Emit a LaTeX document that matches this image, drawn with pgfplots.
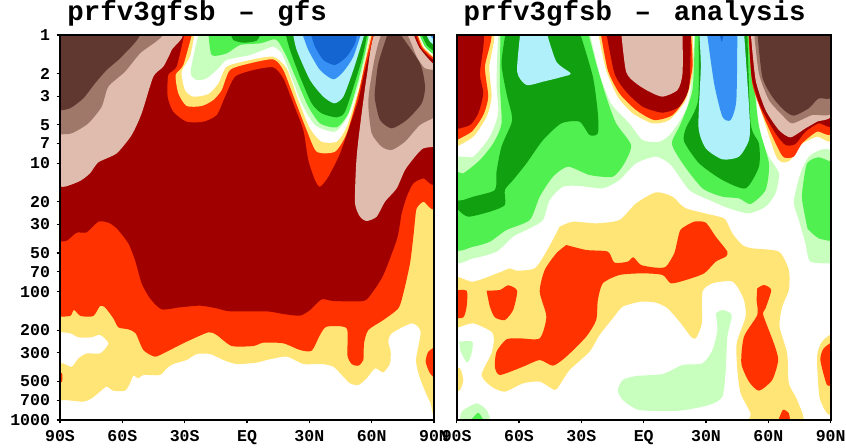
\documentclass[border=0pt]{standalone}
\usepackage{pgfplots}
\pgfplotsset{compat=1.18}
\usepackage{fontspec}
\setmainfont{Liberation Mono}
\definecolor{dbrown}{RGB}{96,56,48}
\definecolor{mbrown}{RGB}{160,120,106}
\definecolor{pinkb}{RGB}{224,188,174}
\definecolor{dred}{RGB}{160,0,0}
\definecolor{ored}{RGB}{255,50,0}
\definecolor{yel}{RGB}{255,228,118}
\definecolor{lgreen}{RGB}{200,255,190}
\definecolor{mgreen}{RGB}{80,240,80}
\definecolor{dgreen}{RGB}{16,160,16}
\definecolor{lblue}{RGB}{176,240,250}
\definecolor{mblue}{RGB}{55,145,245}
\definecolor{dblue}{RGB}{20,100,210}
\newcommand\reg[2]{\addplot[draw=none,fill=#1,no marks,smooth,tension=0.4] coordinates {#2};}
\pgfplotsset{panel/.style={
  scale only axis,width=280.5pt,height=288.75pt,
  xmin=-90,xmax=90,ymin=0,ymax=3,y dir=reverse,
  axis on top,axis line style={line width=1.5pt},
  tick style={line width=0.8pt,black},major tick length=2.5pt,
  xtick={-90,-60,-30,0,30,60,90},
  xticklabels={90S,60S,30S,EQ,30N,60N,90N},
  tick align=outside,xtick pos=bottom,ytick pos=left,
  tick label style={font=\fontsize{12.4}{12.4}\selectfont\bfseries,/pgf/number format/assume math mode=true},
  xticklabel style={yshift=-1.5pt},
  yticklabel style={xshift=-1.5pt},
  y filter/.expression={(y-105)/385},
  title style={anchor=base west,inner sep=0pt,font=\fontsize{20.6}{20.6}\selectfont\bfseries},
}}
\begin{document}
\begin{tikzpicture}
\useasboundingbox (0,0) rectangle (634.5pt,336pt);
\begin{axis}[panel,at={(45pt,21pt)},anchor=south west,
  x filter/.expression={(x-180)/1122*180-90},
  ytick={0,0.30103,0.47712,0.69897,0.8451,1,1.30103,1.47712,1.69897,1.8451,2,2.30103,2.47712,2.69897,2.8451,3},
  yticklabels={1,2,3,5,7,10,20,30,50,70,100,200,300,500,700,1000},
  title={prfv3gfsb\hspace{17pt}--\hspace{17pt}gfs},
  title style={at={(rel axis cs:0.019,1.018)}}]
\reg{yel}{(170,1210)(190,1200)(250,1205)(275,1195)(300,1175)(320,1160)(340,1172)(375,1172)(390,1150)(400,1127)(415,1135)(430,1125)(480,1125)(500,1105)(520,1092)(560,1080)(590,1062)(630,1062)(670,1080)(710,1092)(770,1088)(800,1080)(860,1070)(910,1092)(965,1092)(1000,1100)(1030,1130)(1050,1150)(1075,1155)(1100,1135)(1125,1105)(1150,1117)(1170,1090)(1172,1055)(1165,1025)(1175,1000)(1235,970)(1262,995)(1248,1080)(1260,1135)(1290,1205)(1310,1205)(1310,95)(170,95)}
\reg{white}{(170,995)(210,1000)(235,1012)(275,1012)(300,1005)(325,1030)(300,1060)(260,1060)(235,1075)(215,1100)(190,1090)(170,1090)}
\reg{ored}{(170,950)(210,948)(222,930)(242,948)(280,948)(300,918)(315,922)(340,955)(355,982)(385,988)(407,1000)(430,1050)(465,1070)(500,1055)(560,1025)(625,997)(650,1005)(695,1038)(760,1038)(790,1028)(850,1030)(900,1050)(935,1052)(960,1005)(980,980)(1040,985)(1042,1065)(1055,1092)(1075,1097)(1090,1080)(1092,1030)(1105,990)(1150,960)(1195,925)(1210,880)(1230,790)(1240,710)(1245,660)(1250,625)(1270,605)(1310,603)(1310,95)(170,95)}
\reg{ored}{(1310,1038)(1285,1055)(1277,1085)(1290,1120)(1310,1140)}
\reg{ored}{(170,1118)(186,1120)(186,1145)(170,1150)}
\reg{dred}{(170,725)(200,722)(230,698)(260,697)(295,665)(325,668)(350,685)(385,730)(405,780)(425,850)(450,895)(485,928)(540,922)(600,917)(650,925)(690,934)(800,934)(850,942)(900,947)(930,930)(965,898)(1000,903)(1090,903)(1115,880)(1150,825)(1190,720)(1200,670)(1205,640)(1220,590)(1240,550)(1270,535)(1310,533)(1310,95)(170,95)}
\reg{pinkb}{(170,558)(195,560)(240,543)(270,520)(295,487)(350,460)(395,405)(425,340)(460,230)(490,200)(515,150)(535,95)(170,95)}
\reg{mbrown}{(170,403)(215,400)(265,370)(305,320)(325,260)(375,215)(420,160)(485,95)(170,95)}
\reg{dbrown}{(170,333)(210,325)(250,295)(285,250)(320,210)(370,165)(415,95)(170,95)}
\reg{pinkb}{(1310,440)(1270,445)(1245,470)(1215,510)(1190,565)(1155,605)(1130,650)(1100,663)(1080,650)(1065,610)(1068,500)(1075,420)(1100,230)(1128,95)(1236,95)(1260,145)(1310,190)}
\reg{mbrown}{(1310,350)(1260,375)(1215,425)(1175,450)(1145,440)(1115,400)(1105,320)(1108,270)(1125,170)(1150,95)(1215,95)(1250,170)(1275,205)(1310,210)}
\reg{dbrown}{(1165,95)(1135,190)(1125,270)(1125,300)(1140,360)(1175,385)(1220,360)(1265,310)(1275,260)(1260,190)(1195,95)}
\reg{ored}{(555,95)(530,200)(505,225)(503,290)(520,335)(560,365)(610,365)(650,345)(675,290)(705,230)(760,210)(820,202)(850,235)(880,310)(910,390)(925,480)(945,540)(960,560)(985,530)(1020,460)(1055,360)(1075,300)(1090,230)(1110,150)(1122,95)}
\reg{yel}{(578,95)(550,195)(527,225)(535,280)(560,318)(605,318)(640,300)(665,270)(690,210)(750,190)(820,178)(850,210)(885,300)(920,390)(950,455)(1005,455)(1040,400)(1075,280)(1095,190)(1118,95)}
\reg{white}{(585,95)(570,170)(545,215)(555,270)(580,290)(625,282)(655,250)(680,200)(750,180)(820,170)(860,205)(895,300)(930,385)(965,425)(1010,425)(1040,380)(1075,270)(1095,180)(1113,95)}
\reg{lgreen}{(597,95)(572,215)(590,240)(620,235)(655,205)(680,180)(750,165)(790,150)(820,140)(845,160)(870,220)(905,310)(945,375)(1005,395)(1045,345)(1080,240)(1100,150)(1110,95)}
\reg{mgreen}{(625,95)(635,165)(680,160)(720,135)(780,130)(820,118)(835,125)(860,170)(890,240)(925,320)(960,370)(1010,382)(1045,340)(1075,240)(1095,160)(1108,95)}
\reg{dgreen}{(690,95)(700,120)(730,128)(770,122)(785,95)}
\reg{dgreen}{(855,95)(870,150)(900,230)(935,310)(965,340)(1010,352)(1035,335)(1070,230)(1090,160)(1103,95)}
\reg{lblue}{(878,95)(890,150)(930,240)(970,290)(1003,310)(1030,290)(1060,210)(1085,130)(1095,95)}
\reg{mblue}{(905,95)(925,150)(960,210)(1000,238)(1030,215)(1060,170)(1085,95)}
\reg{dblue}{(930,95)(945,140)(970,180)(1005,195)(1040,170)(1065,130)(1072,95)}
\reg{dred}{(1238,95)(1260,145)(1310,195)(1320,95)}
\reg{ored}{(1245,95)(1265,145)(1310,182)(1320,95)}
\reg{yel}{(1250,95)(1268,142)(1310,175)(1320,95)}
\reg{white}{(1252,95)(1272,142)(1310,170)(1320,95)}
\reg{mgreen}{(1255,95)(1275,140)(1310,165)(1320,95)}
\reg{dgreen}{(1262,95)(1280,135)(1310,155)(1320,95)}
\reg{lblue}{(1275,95)(1290,125)(1310,135)(1320,95)}
\reg{mblue}{(1285,95)(1295,112)(1310,122)(1320,95)}
\end{axis}
\begin{axis}[panel,at={(342.5pt,21pt)},anchor=south west,
  x filter/.expression={(x-80)/1126*180-90},
  ytick=\empty,
  title={prfv3gfsb\hspace{17pt}--\hspace{17pt}analysis},
  title style={at={(rel axis cs:0.018,1.018)}}]
\reg{yel}{(390,680)(430,665)(500,670)(570,660)(620,610)(680,577)(730,590)(770,625)(870,650)(890,660)(910,700)(940,735)(970,745)(1050,755)(1080,810)(1080,870)(1060,920)(1052,980)(1075,1060)(1080,1150)(1105,1200)(1120,1270)(965,1270)(965,1240)(935,1180)(925,1110)(923,1030)(950,950)(945,900)(925,860)(905,843)(850,850)(820,875)(818,970)(800,1015)(785,1010)(755,970)(715,925)(680,908)(635,905)(580,920)(550,955)(510,1005)(480,1055)(420,1110)(390,1155)(375,1170)(330,1145)(280,1150)(225,1175)(185,1160)(155,1125)(185,1060)(192,1020)(185,995)(130,970)(85,982)(70,982)(70,835)(130,845)(215,815)(240,805)(260,812)(315,805)(350,755)(385,690)}
\reg{yel}{(1216,995)(1180,1025)(1165,1070)(1172,1190)(1195,1240)(1216,1245)}
\reg{yel}{(70,1105)(90,1105)(100,1140)(90,1170)(70,1180)}
\reg{ored}{(410,735)(470,750)(535,755)(555,788)(595,785)(612,772)(635,795)(680,803)(710,800)(735,760)(745,720)(755,688)(795,665)(830,668)(860,710)(895,755)(890,770)(860,785)(825,820)(770,840)(725,850)(700,825)(640,820)(570,825)(520,850)(505,900)(500,960)(470,1010)(410,1070)(370,1097)(330,1080)(280,1100)(210,1125)(195,1100)(200,1055)(230,1018)(270,1015)(330,1015)(350,950)(330,875)(345,810)(380,760)(410,735)}
\reg{ored}{(70,872)(110,872)(110,920)(100,952)(70,955)}
\reg{ored}{(170,872)(210,870)(235,856)(262,872)(250,930)(225,960)(195,952)(180,920)(170,872)}
\reg{ored}{(985,865)(1005,855)(1027,870)(1010,925)(1003,945)(1035,1030)(1048,1080)(1030,1140)(990,1172)(960,1145)(937,1090)(945,1010)(985,945)(983,900)(985,865)}
\reg{ored}{(1216,1022)(1185,1045)(1175,1080)(1195,1155)(1216,1150)}
\reg{ored}{(1045,1270)(1062,1230)(1080,1240)(1085,1270)}
\reg{lgreen}{(88,1025)(127,1025)(125,1060)(112,1088)(92,1055)(88,1025)}
\reg{lgreen}{(860,940)(880,930)(908,945)(895,1010)(890,1110)(880,1190)(840,1215)(750,1232)(630,1230)(580,1200)(565,1170)(580,1140)(620,1128)(700,1122)(760,1095)(820,1090)(850,1050)(865,990)(860,940)}
\reg{lgreen}{(90,1270)(95,1235)(140,1210)(170,1230)(185,1270)}
\reg{mgreen}{(115,1270)(145,1238)(165,1270)}
\reg{lgreen}{(205,95)(200,250)(205,340)(180,410)(130,470)(70,488)(70,775)(130,775)(200,755)(250,710)(300,685)(340,660)(360,600)(400,560)(450,558)(520,565)(570,540)(620,490)(680,470)(725,495)(780,570)(840,600)(900,625)(960,640)(1010,620)(1040,580)(1050,520)(1020,470)(1000,420)(985,340)(980,240)(962,95)}
\reg{lgreen}{(1216,450)(1180,448)(1140,470)(1115,520)(1095,605)(1110,660)(1130,730)(1145,785)(1216,790)}
\reg{mgreen}{(1216,490)(1170,472)(1135,490)(1122,560)(1120,600)(1135,680)(1140,690)(1170,715)(1216,725)}
\reg{mgreen}{(212,95)(210,250)(215,370)(190,430)(150,480)(100,520)(70,525)(70,742)(130,740)(180,725)(230,690)(300,660)(330,590)(370,530)(415,500)(480,525)(550,530)(585,490)(605,435)(560,370)(530,290)(500,190)(475,95)}
\reg{mgreen}{(797,95)(790,270)(755,370)(728,430)(760,490)(820,565)(880,590)(930,595)(965,612)(1010,570)(1020,490)(990,380)(975,250)(958,95)}
\reg{dgreen}{(228,95)(215,190)(230,280)(245,340)(245,370)(215,440)(200,515)(195,570)(130,590)(100,600)(70,605)(85,630)(115,650)(180,635)(225,615)(225,570)(250,540)(290,490)(340,420)(395,370)(450,365)(480,405)(505,400)(505,340)(490,230)(450,95)}
\reg{lblue}{(272,95)(262,215)(290,255)(340,245)(400,230)(423,220)(380,185)(350,95)}
\reg{dgreen}{(808,95)(807,300)(770,385)(765,425)(810,490)(880,540)(950,565)(990,500)(990,430)(965,370)(955,95)}
\reg{lblue}{(810,95)(815,200)(808,380)(830,445)(880,478)(930,470)(960,420)(962,350)(945,95)}
\reg{mblue}{(833,95)(855,250)(880,350)(905,360)(922,300)(925,95)}
\reg{dblue}{(870,95)(878,125)(885,95)}
\reg{white}{(480,95)(510,220)(545,310)(600,370)(640,420)(690,425)(725,400)(770,330)(785,260)(797,95)}
\reg{yel}{(505,95)(530,210)(565,290)(610,340)(670,370)(720,360)(770,300)(792,210)(790,95)}
\reg{ored}{(513,95)(535,210)(570,280)(620,330)(675,360)(730,345)(770,290)(790,200)(785,95)}
\reg{dred}{(530,95)(555,220)(590,275)(640,320)(700,338)(750,320)(780,260)(785,95)}
\reg{pinkb}{(575,95)(590,215)(620,250)(660,275)(700,290)(745,270)(760,220)(760,95)}
\reg{yel}{(958,95)(975,260)(1005,360)(1040,465)(1060,487)(1085,480)(1115,435)(1165,410)(1216,410)(1226,95)}
\reg{ored}{(958,95)(970,250)(1000,340)(1045,440)(1065,472)(1095,470)(1120,430)(1165,395)(1216,390)(1226,95)}
\reg{dred}{(960,95)(968,230)(995,320)(1040,400)(1070,435)(1100,432)(1130,395)(1170,370)(1216,367)(1226,95)}
\reg{pinkb}{(965,95)(980,240)(1010,330)(1050,390)(1085,412)(1130,385)(1165,365)(1216,335)(1226,95)}
\reg{mbrown}{(975,95)(990,220)(1020,300)(1060,345)(1090,370)(1150,345)(1216,330)(1226,95)}
\reg{dbrown}{(985,95)(1000,230)(1030,290)(1065,330)(1095,347)(1140,325)(1170,295)(1216,285)(1226,95)}
\reg{yel}{(70,445)(130,410)(170,350)(185,290)(178,200)(190,95)(70,95)}
\reg{ored}{(70,425)(125,395)(160,345)(175,290)(165,200)(183,95)(70,95)}
\reg{dred}{(70,390)(120,375)(145,340)(160,280)(150,220)(160,95)(70,95)}
\end{axis}
\end{tikzpicture}
\end{document}
